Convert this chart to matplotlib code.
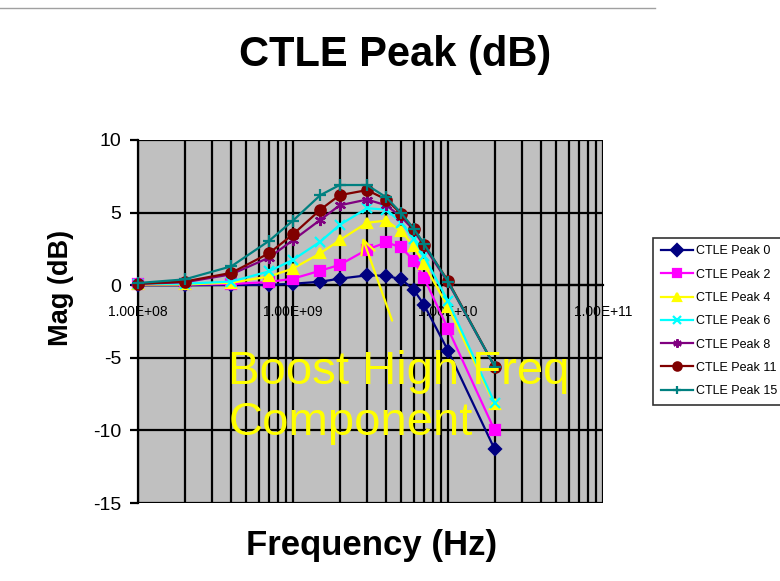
import matplotlib
matplotlib.use("Agg")
import matplotlib.pyplot as plt
from matplotlib.lines import Line2D
from matplotlib.ticker import FixedLocator, NullFormatter, LogLocator

plt.rcParams['font.family'] = ['Liberation Sans', 'DejaVu Sans']

# Frequency sweep points (Hz)
freq = [1e8, 2e8, 4e8, 7e8, 1e9, 1.5e9, 2e9, 3e9, 4e9, 5e9, 6e9, 7e9, 1e10, 2e10]

# Magnitude response (dB) for each CTLE peaking setting
peak0 = [0.0, 0.0, 0.02, 0.02, 0.1, 0.24, 0.45, 0.68, 0.65, 0.4, -0.3, -1.35, -4.5, -11.3]
peak2 = [0.05, 0.05, 0.08, 0.22, 0.45, 1.0, 1.4, 2.45, 2.95, 2.6, 1.7, 0.5, -3.0, -10.0]
peak4 = [0.05, 0.05, 0.17, 0.6, 1.15, 2.2, 3.1, 4.3, 4.45, 3.7, 2.7, 1.45, -1.5, -8.2]
peak6 = [0.1, 0.1, 0.25, 0.95, 1.75, 3.0, 4.15, 5.3, 5.2, 4.3, 3.2, 2.0, -1.1, -8.1]
peak8 = [0.1, 0.2, 0.75, 1.9, 3.1, 4.5, 5.5, 5.9, 5.5, 4.7, 3.8, 2.7, 0.2, -5.6]
peak11 = [0.1, 0.25, 0.85, 2.2, 3.5, 5.2, 6.2, 6.55, 5.9, 4.9, 3.9, 2.8, 0.3, -5.6]
peak15 = [0.15, 0.4, 1.3, 3.05, 4.45, 6.2, 6.9, 6.9, 6.05, 4.95, 3.9, 2.85, 0.25, -5.6]

labels = ["CTLE Peak 0", "CTLE Peak 2", "CTLE Peak 4", "CTLE Peak 6",
          "CTLE Peak 8", "CTLE Peak 11", "CTLE Peak 15"]
series = [peak0, peak2, peak4, peak6, peak8, peak11, peak15]
colors = ["#000080", "#FF00FF", "#FFFF00", "#00FFFF", "#800080", "#800000", "#008080"]
markers = ["D", "s", "^", "x", (6, 2, 0), "o", "+"]
msizes = [6, 7.5, 7.5, 7, 8, 7.5, 9]

xtick_vals = [1e8, 1e9, 1e10, 1e11]
xtick_labels = ["1.00E+08", "1.00E+09", "1.00E+10", "1.00E+11"]
ytick_vals = [-15, -10, -5, 0, 5, 10]

fig = plt.figure(figsize=(7.8, 5.81), dpi=100)
fig.patch.set_facecolor("white")

# thin frame edge along the top of the chart area
fig.add_artist(Line2D([0, 655 / 780], [1 - 8 / 581, 1 - 8 / 581],
                      transform=fig.transFigure, color="#A0A0A0", lw=1))

ax = fig.add_axes([138 / 780, 78 / 581, 465 / 780, 363 / 581])
ax.set_facecolor("#C0C0C0")
ax.set_xscale("log")
ax.set_xlim(1e8, 1e11)
ax.set_ylim(-15, 10)

ax.xaxis.set_major_locator(FixedLocator(xtick_vals))
ax.xaxis.set_minor_locator(LogLocator(base=10, subs=range(2, 10), numticks=20))
ax.xaxis.set_minor_formatter(NullFormatter())
ax.set_xticks(xtick_vals)
ax.set_xticklabels(xtick_labels, fontsize=11.5)
ax.set_yticks(ytick_vals)
ax.set_yticklabels([str(v) for v in ytick_vals], fontsize=14)

ax.grid(which="both", axis="x", color="black", lw=1.6)
ax.grid(which="major", axis="y", color="black", lw=1.6)
ax.set_axisbelow(True)

for s in ["top", "right"]:
    ax.spines[s].set_visible(False)
ax.spines["left"].set_linewidth(1.6)
ax.spines["bottom"].set_position(("data", 0))
ax.spines["bottom"].set_linewidth(1.6)
ax.tick_params(axis="x", which="both", length=0, pad=14)
ax.tick_params(axis="y", which="major", direction="out", length=6, width=1.6, pad=6)

for vals, lab, c, m, ms in zip(series, labels, colors, markers, msizes):
    ax.plot(freq, vals, color=c, lw=1.6, marker=m, ms=ms, mew=1.6,
            mfc=c, mec=c, label=lab, zorder=3, clip_on=False)

# Annotation with arrow pointing at the boosted region
ax.annotate("", xy=(2.77e9, 3.46), xytext=(4.42e9, -2.62),
            arrowprops=dict(arrowstyle="->", color="#FFFF00", lw=1.6,
                            mutation_scale=25), zorder=5)
ax.text(3.82e8, -10.3, "Boost High Freq\nComponent", color="#FFFF00",
        fontsize=34, ha="left", va="baseline", zorder=6,
        linespacing=1.2)

fig.text(395 / 780, 1 - 55 / 581, "CTLE Peak (dB)", ha="center", va="center",
         fontsize=30, fontweight="bold")
fig.text(372 / 780, 1 - 545 / 581, "Frequency (Hz)", ha="center", va="center",
         fontsize=25, fontweight="bold")
fig.text(61 / 780, 1 - 288 / 581, "Mag (dB)", ha="center", va="center",
         rotation=90, fontsize=19.5, fontweight="bold")

leg = fig.legend(loc="upper left", bbox_to_anchor=(653 / 780, 1 - 238 / 581),
                 fontsize=9, frameon=True, fancybox=False, edgecolor="black",
                 handlelength=2.6, handletextpad=0.2, labelspacing=0.9,
                 borderpad=0.6, borderaxespad=0)
leg.get_frame().set_linewidth(1.2)
for h in leg.legend_handles:
    h.set_markersize(6)

fig.savefig("out.png", dpi=100, facecolor="white")
